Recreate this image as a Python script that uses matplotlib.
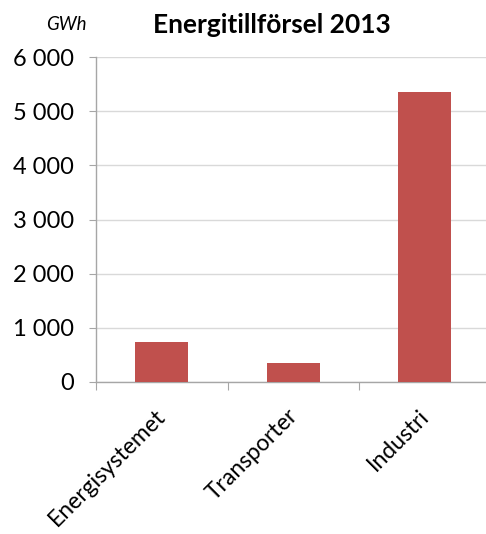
import matplotlib
matplotlib.use("Agg")
import matplotlib.pyplot as plt
from matplotlib.ticker import FuncFormatter, FixedLocator

categories = ["Energisystemet", "Transporter", "Industri"]
values = [740, 357, 5347]
yticks = [0, 1000, 2000, 3000, 4000, 5000, 6000]

plt.rcParams['font.family'] = ['Lato', 'DejaVu Sans']

fig = plt.figure(figsize=(4.86, 5.34), dpi=100)
ax = fig.add_axes([96/486, 1-382/534, 390/486, 325/534])

x = list(range(len(categories)))
ax.bar(x, values, width=0.4, color="#C0504D", zorder=3)
ax.set_xlim(-0.5, -0.5 + 390/131.5)
ax.set_ylim(0, 6000)
ax.set_yticks(yticks)
ax.yaxis.set_major_formatter(FuncFormatter(lambda v, p: f"{int(v):,}".replace(",", " ")))
ax.grid(axis="y", color="#D9D9D9", linewidth=1, zorder=0)
for s in ["top", "right"]:
    ax.spines[s].set_visible(False)
for s in ["left", "bottom"]:
    ax.spines[s].set_color("#A6A6A6")
    ax.spines[s].set_linewidth(1)
ax.tick_params(axis="y", length=5, color="#A6A6A6", labelsize=17, pad=11)
ax.xaxis.set_major_locator(FixedLocator([-0.5, 0.5, 1.5]))
ax.set_xticklabels([])
ax.tick_params(axis="x", length=6, color="#A6A6A6")
for i, c in enumerate(categories):
    ax.text(i - 0.05, -430, c, rotation=45, ha="right", va="top",
            rotation_mode="anchor", fontsize=16.5)

fig.text(272/486, 1-25/534, "Energitillförsel 2013", ha="center", va="center",
         fontsize=19, fontweight="bold")
fig.text(66/486, 1-25/534, "GWh", ha="center", va="center", fontsize=13.5, style="italic")

fig.savefig("out.png", dpi=100)
